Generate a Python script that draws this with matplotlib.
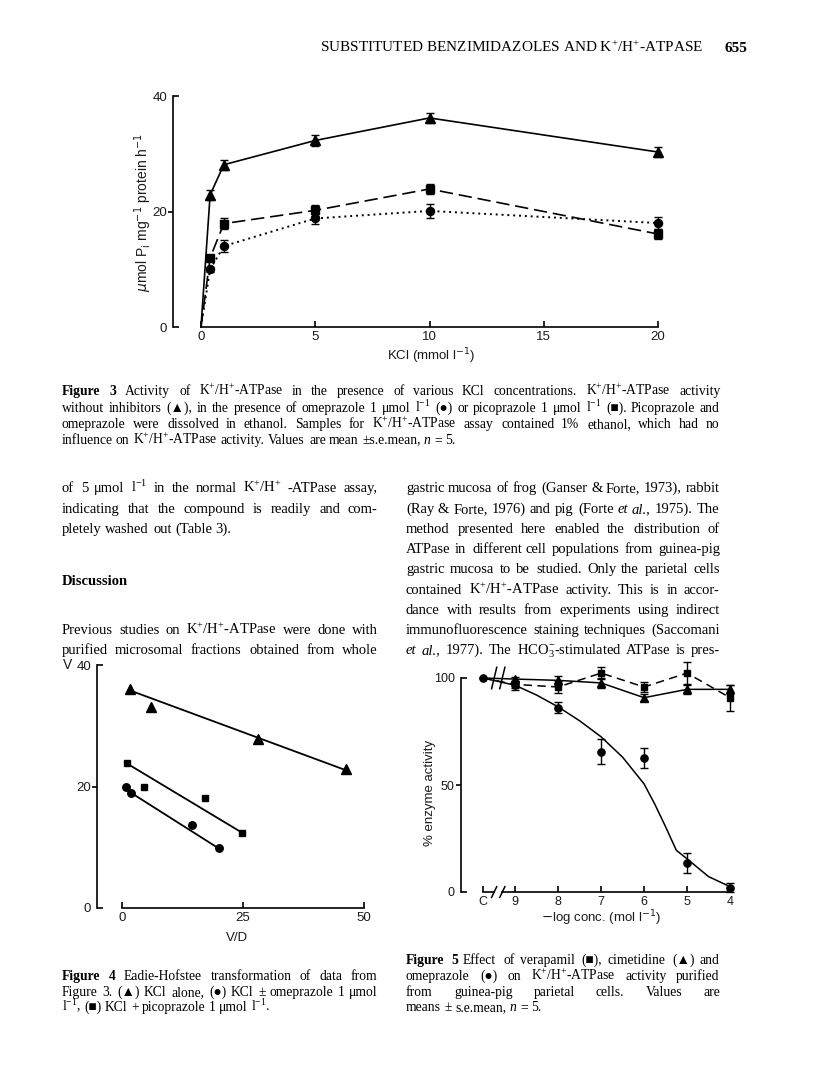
import numpy as np
import matplotlib
matplotlib.use('Agg')
import matplotlib.pyplot as plt
import matplotlib.transforms as mtrans
from matplotlib.ticker import FixedLocator, FixedFormatter

W, H = 816, 1091
SERIF = ['Liberation Serif', 'DejaVu Serif', 'DejaVu Sans']
SANS = ['Liberation Sans', 'DejaVu Sans']

# ---------------- Figure 3: activity vs KCl ----------------
kcl = [0, 0.4, 1, 5, 10, 20]
f3_alone = [0, 22.9, 28.1, 32.3, 36.2, 30.3]
f3_alone_err = [0, 0.9, 0.9, 0.9, 0.9, 0.9]
f3_picop = [0, 12.0, 17.9, 20.2, 23.9, 16.1]
f3_picop_err = [0, 0.4, 0.9, 0.9, 0.8, 0.8]
f3_omep = [0, 10.0, 14.0, 18.8, 20.1, 18.0]
f3_omep_err = [0, 0.4, 1.0, 0.9, 1.2, 1.0]
f3_xticks = [0, 5, 10, 15, 20]

# ---------------- Figure 4: Eadie-Hofstee ----------------
f4_vd_alone = [1.65, 6.0, 28.2, 46.2]
f4_v_alone = [36.0, 33.1, 27.9, 22.8]
f4_fit_alone_x = [1.7, 46.2]
f4_fit_alone_y = [35.8, 22.7]
f4_vd_picop = [0.96, 4.5, 17.2, 24.8]
f4_v_picop = [23.8, 20.0, 18.1, 12.4]
f4_fit_picop_x = [1.0, 24.8]
f4_fit_picop_y = [23.8, 12.4]
f4_vd_omep = [0.76, 1.8, 14.5, 20.0]
f4_v_omep = [20.0, 19.0, 13.7, 9.8]
f4_fit_omep_x = [1.8, 20.0]
f4_fit_omep_y = [19.0, 9.8]

# ---------------- Figure 5: inhibition ----------------
f5_labels = ['C', '9', '8', '7', '6', '5', '4']
f5_x = [9.75, 9, 8, 7, 6, 5, 4]
f5_verap = [100, 97.0, 95.8, 102.3, 95.8, 102.3, 90.8]
f5_verap_err = [0, 1.5, 3.0, 3.0, 2.5, 5.0, 6.0]
f5_cimet = [100, 99.5, 98.9, 97.7, 90.8, 94.7, 94.7]
f5_cimet_err = [0, 1.0, 2.0, 2.5, 1.5, 2.0, 2.0]
f5_omep = [100, 96.6, 86.2, 65.5, 62.7, 13.5, 2.0]
f5_omep_err = [0, 2.0, 2.5, 5.8, 4.7, 4.5, 2.0]
f5_curve_x = [9, 8.5, 8, 7.5, 7, 6.5, 6, 5.75, 5.5, 5.25, 5, 4.5, 4]
f5_curve_y = [96.6, 92, 86.5, 80, 72.5, 63, 50.5, 41, 30.5, 19.5, 15.5, 7.2, 2.5]

plt.rcParams['mathtext.fontset'] = 'custom'
plt.rcParams['mathtext.rm'] = 'Liberation Serif'
plt.rcParams['mathtext.it'] = 'Liberation Serif:italic'
plt.rcParams['mathtext.bf'] = 'Liberation Serif:bold'

fig = plt.figure(figsize=(W / 100, H / 100), dpi=100)
fig.patch.set_facecolor('white')
rend = fig.canvas.get_renderer()


def box(x0, y0, x1, y1):
    return [x0 / W, 1 - y1 / H, (x1 - x0) / W, (y1 - y0) / H]


def px2pt(p):
    return p * 72 / 100


def style_axes(ax, ylo, yhi, ymid, left_off, tsize=9.5):
    for s in ['top', 'right']:
        ax.spines[s].set_visible(False)
    ax.spines['left'].set_position(('outward', px2pt(left_off)))
    ax.spines['left'].set_bounds(ylo, yhi)
    for s in ['left', 'bottom']:
        ax.spines[s].set_linewidth(1.2)
    ax.yaxis.set_major_locator(FixedLocator([ymid]))
    ax.yaxis.set_major_formatter(FixedFormatter([str(ymid)]))
    ax.yaxis.set_minor_locator(FixedLocator([ylo, yhi]))
    ax.yaxis.set_minor_formatter(FixedFormatter([str(ylo), str(yhi)]))
    ax.tick_params(axis='y', which='major', direction='out', length=px2pt(5),
                   width=1.2, pad=0.8, labelsize=tsize, labelcolor='#1a1a1a')
    ax.tick_params(axis='y', which='minor', direction='in', length=px2pt(6),
                   width=1.2, pad=px2pt(6), labelsize=tsize, labelcolor='#1a1a1a')
    ax.tick_params(axis='x', which='major', direction='in', length=px2pt(6),
                   width=1.2, pad=3, labelsize=tsize, labelcolor='#1a1a1a')
    for lab in ax.get_xticklabels() + ax.get_yticklabels() + ax.get_yticklabels(minor=True):
        lab.set_family(SANS)
    ax.patch.set_alpha(0)


# ---------------- Figure 3 axes ----------------
ax3 = fig.add_axes(box(201, 96, 658, 327))
ax3.set_xlim(0, 20)
ax3.set_ylim(0, 40)
ax3.set_xticks(f3_xticks)
style_axes(ax3, 0, 40, 20, 28)
for lab in ax3.get_xticklabels():
    lab.set_family(SANS)

series3 = [
    (f3_alone, f3_alone_err, '^', 7.2, '-'),
    (f3_picop, f3_picop_err, 's', 5.8, (0, (8, 3.5))),
    (f3_omep, f3_omep_err, 'o', 5.8, (0, (1, 2))),
]
for vals, errs, mk, ms, ls in series3:
    lw = 1.4 if mk == 'o' else 1.2
    ax3.plot(kcl, vals, color='black', lw=lw, ls=ls, clip_on=False)
    ax3.errorbar(kcl[1:], vals[1:], yerr=errs[1:], fmt=mk, ms=ms, color='black',
                 ecolor='black', elinewidth=1.0, capsize=2.8, capthick=1.0, clip_on=False)

fig.text(143 / W, 1 - 212 / H, r'$\mu$mol P$_{\rm i}$ mg$^{-1}$ protein h$^{-1}$',
         rotation=90, ha='center', va='center', fontsize=10, family=SANS,
         math_fontfamily='dejavusans', color='#1a1a1a')
fig.text(431 / W, 1 - 356 / H, r'KCl (mmol l$^{-1}$)', ha='center', va='center',
         fontsize=9.5, family=SANS, math_fontfamily='dejavusans', color='#1a1a1a')

# ---------------- Figure 4 axes ----------------
ax4 = fig.add_axes(box(122, 665, 364, 908))
ax4.set_xlim(0, 50)
ax4.set_ylim(0, 40)
ax4.set_xticks([0, 25, 50])
style_axes(ax4, 0, 40, 20, 25)
for lab in ax4.get_xticklabels():
    lab.set_family(SANS)

for xs, ys, fx_, fy_, mk, ms in [
        (f4_vd_alone, f4_v_alone, f4_fit_alone_x, f4_fit_alone_y, '^', 6.8),
        (f4_vd_picop, f4_v_picop, f4_fit_picop_x, f4_fit_picop_y, 's', 4.6),
        (f4_vd_omep, f4_v_omep, f4_fit_omep_x, f4_fit_omep_y, 'o', 5.4)]:
    ax4.plot(fx_, fy_, color='black', lw=1.3)
    ax4.plot(xs, ys, mk, ms=ms, color='black', clip_on=False)

fig.text(63 / W, 1 - 665 / H, 'V', ha='left', va='center', fontsize=10,
         family=SANS, color='#1a1a1a')
fig.text(237 / W, 1 - 938 / H, 'V/D', ha='center', va='center', fontsize=9.5,
         family=SANS, color='#1a1a1a')

# ---------------- Figure 5 axes ----------------
ax5 = fig.add_axes(box(483, 678, 730, 892))
ax5.set_xlim(9.75, 4)
ax5.set_ylim(0, 100)
ax5.set_xticks(f5_x)
ax5.set_xticklabels(f5_labels)
style_axes(ax5, 0, 100, 50, 22, tsize=9)
for lab in ax5.get_xticklabels():
    lab.set_family(SANS)
ax5.spines['bottom'].set_visible(False)
trans5 = mtrans.blended_transform_factory(ax5.transData, ax5.transAxes)
brk_l, brk_r = 9.49, 9.30
ax5.plot([f5_x[0], brk_l], [0, 0], color='black', lw=1.2, transform=trans5, clip_on=False)
ax5.plot([brk_r, f5_x[-1]], [0, 0], color='black', lw=1.2, transform=trans5, clip_on=False)

ax5.plot(f5_x, f5_verap, color='black', lw=1.1, ls=(0, (5.5, 3.5)), clip_on=False)
ax5.errorbar(f5_x[1:], f5_verap[1:], yerr=f5_verap_err[1:], fmt='s', ms=4.4, color='black',
             elinewidth=1.0, capsize=2.8, capthick=1.0, clip_on=False)
ax5.plot(f5_x, f5_cimet, color='black', lw=1.1, clip_on=False)
ax5.errorbar(f5_x[1:], f5_cimet[1:], yerr=f5_cimet_err[1:], fmt='^', ms=5.4, color='black',
             elinewidth=1.0, capsize=2.8, capthick=1.0, clip_on=False)
ax5.plot(f5_curve_x, f5_curve_y, color='black', lw=1.1, clip_on=False)
ax5.plot(f5_x[:2], f5_omep[:2], color='black', lw=1.1, clip_on=False)
ax5.errorbar(f5_x, f5_omep, yerr=f5_omep_err, fmt='o', ms=5.2, color='black',
             elinewidth=1.0, capsize=2.8, capthick=1.0, clip_on=False)

# axis break marks: on the x axis and across the control line
for xb in (brk_l, brk_r):
    ax5.plot([xb + 0.06, xb - 0.06], [-0.025, 0.025], color='black', lw=1.1,
             transform=trans5, clip_on=False)
    ax5.plot([xb + 0.06, xb - 0.06], [95, 105], color='black', lw=1.1, clip_on=False)

fig.text(430 / W, 1 - 793 / H, '% enzyme activity', rotation=90, ha='center',
         va='center', fontsize=9.5, family=SANS, color='#1a1a1a')
fig.text(601 / W, 1 - 918 / H, r'$-$log conc. (mol l$^{-1}$)', ha='center', va='center',
         fontsize=9.5, family=SANS, math_fontfamily='dejavusans', color='#1a1a1a')


# ---------------- text of the page ----------------
def make_words(line, size):
    arts = []
    for w in line.split(' '):
        kw = {}
        if w.startswith('*'):
            w, kw['fontweight'] = w[1:], 'bold'
        elif w.startswith('_'):
            w, kw['fontstyle'] = w[1:], 'italic'
        arts.append(fig.text(0, 0, w, fontsize=size, family=SERIF, va='baseline',
                             ha='left', color='black', **kw))
    return arts


def natural_width(line, size):
    arts = make_words(line, size)
    ws = [a.get_window_extent(rend).width for a in arts]
    for a in arts:
        a.remove()
    return sum(ws) + (len(ws) - 1) * size * 100 / 72 * 0.25


def fit_size(lines, x0, x1, size_max):
    ref = 10.0
    scale = min((x1 - x0) / natural_width(l, ref) for l, j in lines if j)
    return min(size_max, ref * scale * 0.995)


def block(lines, x0, x1, ys, size):
    for (l, j), y in zip(lines, ys):
        arts = make_words(l, size)
        ws = [a.get_window_extent(rend).width for a in arts]
        if j and len(ws) > 1:
            gap = (x1 - x0 - sum(ws)) / (len(ws) - 1)
        else:
            gap = size * 100 / 72 * 0.25
        x = x0
        for a, w in zip(arts, ws):
            a.set_position((round(x) / W, 1 - round(y) / H))
            x += w + gap


L0, L1, R0, R1 = 62, 378, 406, 720

fig.text(703 / W, 1 - 52 / H, 'SUBSTITUTED BENZIMIDAZOLES AND K$^{+}$/H$^{+}$-ATPASE',
         ha='right', va='baseline', fontsize=11, family=SERIF, color='black')
fig.text(747 / W, 1 - 52 / H, '655', ha='right', va='baseline', fontsize=11,
         family=SERIF, fontweight='bold', color='black')

cap3 = [
    ('*Figure *3 Activity of K$^{+}$/H$^{+}$-ATPase in the presence of various KCl concentrations. K$^{+}$/H$^{+}$-ATPase activity', True),
    ('without inhibitors (▲), in the presence of omeprazole 1 μmol l$^{-1}$ (●) or picoprazole 1 μmol l$^{-1}$ (■). Picoprazole and', True),
    ('omeprazole were dissolved in ethanol. Samples for K$^{+}$/H$^{+}$-ATPase assay contained 1% ethanol, which had no', True),
    ('influence on K$^{+}$/H$^{+}$-ATPase activity. Values are mean ±s.e.mean, _n = 5.', False),
]
s3 = fit_size(cap3, L0, R1, 9.8)
block(cap3, L0, R1, [395, 411.5, 428, 444.5], s3)

ROW0, DROW = 492.5, 20.2
body_left = [
    ('of 5 μmol l$^{-1}$ in the normal K$^{+}$/H$^{+}$ -ATPase assay,', True),
    ('indicating that the compound is readily and com-', True),
    ('pletely washed out (Table 3).', False),
    ('*Discussion', False),
    ('Previous studies on K$^{+}$/H$^{+}$-ATPase were done with', True),
    ('purified microsomal fractions obtained from whole', True),
]
body_left_rows = [0, 1, 2, 4.6, 7, 8]
body_right = [
    ('gastric mucosa of frog (Ganser & Forte, 1973), rabbit', True),
    ('(Ray & Forte, 1976) and pig (Forte _et _al., 1975). The', True),
    ('method presented here enabled the distribution of', True),
    ('ATPase in different cell populations from guinea-pig', True),
    ('gastric mucosa to be studied. Only the parietal cells', True),
    ('contained K$^{+}$/H$^{+}$-ATPase activity. This is in accor-', True),
    ('dance with results from experiments using indirect', True),
    ('immunofluorescence staining techniques (Saccomani', True),
    ('_et _al., 1977). The HCO$_{3}^{-}$-stimulated ATPase is pres-', True),
]
sb = min(fit_size(body_right, R0, R1, 11.5), fit_size(body_left, L0, L1, 11.5))
block(body_right, R0, R1, [ROW0 + DROW * k for k in range(len(body_right))], sb)
block(body_left, L0, L1, [ROW0 + DROW * k for k in body_left_rows], sb)

cap4 = [
    ('*Figure *4 Eadie-Hofstee transformation of data from', True),
    ('Figure 3. (▲) KCl alone, (●) KCl ± omeprazole 1 μmol', True),
    ('l$^{-1}$, (■) KCl + picoprazole 1 μmol l$^{-1}$.', False),
]
cap5 = [
    ('*Figure *5 Effect of verapamil (■), cimetidine (▲) and', True),
    ('omeprazole (●) on K$^{+}$/H$^{+}$-ATPase activity purified', True),
    ('from guinea-pig parietal cells. Values are', True),
    ('means ± s.e.mean, _n = 5.', False),
]
sc = min(fit_size(cap4, L0, L1, 9.8), fit_size(cap5, R0, R1, 9.8))
block(cap4, L0, L1, [980, 995.5, 1011], sc)
block(cap5, R0, R1, [964.5, 980, 995.5, 1011], sc)

fig.savefig('out.png', dpi=100, facecolor='white')
